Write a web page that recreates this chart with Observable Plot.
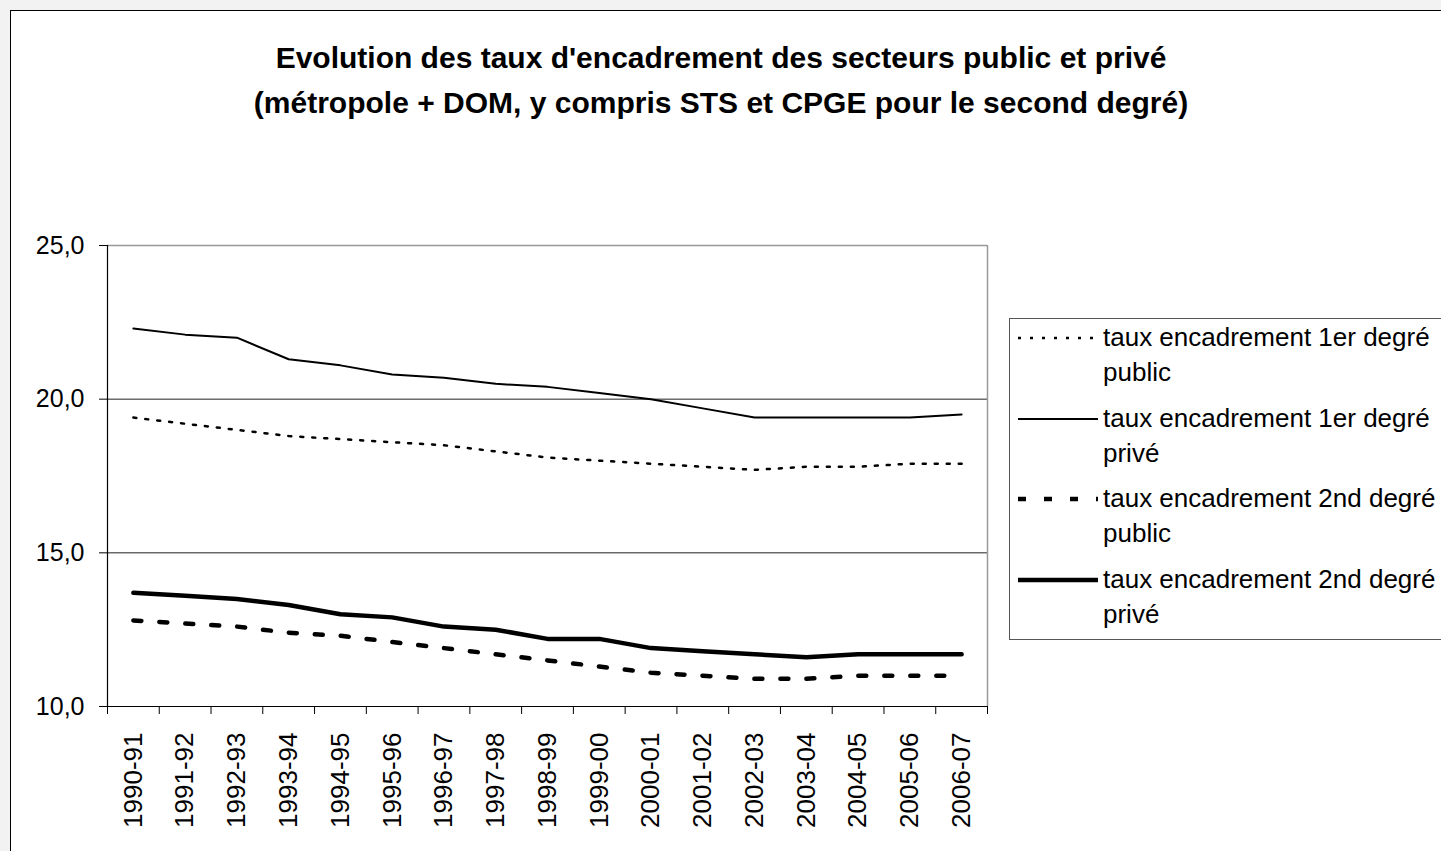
<!DOCTYPE html>
<html>
<head>
<meta charset="utf-8">
<script src="https://cdn.jsdelivr.net/npm/d3@7"></script>
<script src="https://cdn.jsdelivr.net/npm/@observablehq/plot@0.6"></script>
<style>
  html, body { margin: 0; padding: 0; background: #f2f2f2; width: 1441px; height: 851px; overflow: hidden; }
  #frame { position: absolute; left: 10px; top: 10px; width: 1431px; height: 841px; background: #fff;
           border-left: 1px solid #000; border-top: 1px solid #000; overflow: hidden;
           font-family: 'Liberation Sans', Arial, sans-serif; color: #000; }
  #title { position: absolute; left: -11px; top: 24px; width: 1442px; text-align: center;
           font-weight: bold; font-size: 30px; line-height: 45px; }
  #chart { position: absolute; left: 0; top: 189px; }
  #legend { position: absolute; left: 998px; top: 307px; width: 470px; height: 320px;
            border: 1px solid #555; background: #fff; }
  .item { position: absolute; left: 0; height: 80px; width: 470px; }
  .item svg { position: absolute; left: 8px; top: 13px; }
  .item .lab { position: absolute; left: 93px; top: 0; width: 360px; font-size: 26px; line-height: 35px; }
</style>
</head>
<body>
<div id="frame">
  <div id="title"></div>
  <div id="chart"></div>
  <div id="legend"></div>
</div>
<script>
// ---- data ----
const titleLines = [
  "Evolution des taux d'encadrement des secteurs public et privé",
  "(métropole + DOM, y compris STS et CPGE pour le second degré)"
];
const years = ["1990-91","1991-92","1992-93","1993-94","1994-95","1995-96","1996-97","1997-98","1998-99",
               "1999-00","2000-01","2001-02","2002-03","2003-04","2004-05","2005-06","2006-07"];
const seriesNames = [
  "taux encadrement 1er degré public",
  "taux encadrement 1er degré privé",
  "taux encadrement 2nd degré public",
  "taux encadrement 2nd degré privé"
];
const premierPublic = [19.4, 19.2, 19.0, 18.8, 18.7, 18.6, 18.5, 18.3, 18.1, 18.0, 17.9, 17.8, 17.7, 17.8, 17.8, 17.9, 17.9];
const premierPrive  = [22.3, 22.1, 22.0, 21.3, 21.1, 20.8, 20.7, 20.5, 20.4, 20.2, 20.0, 19.7, 19.4, 19.4, 19.4, 19.4, 19.5];
const secondPublic  = [12.8, 12.7, 12.6, 12.4, 12.3, 12.1, 11.9, 11.7, 11.5, 11.3, 11.1, 11.0, 10.9, 10.9, 11.0, 11.0, 11.0];
const secondPrive   = [13.7, 13.6, 13.5, 13.3, 13.0, 12.9, 12.6, 12.5, 12.2, 12.2, 11.9, 11.8, 11.7, 11.6, 11.7, 11.7, 11.7];
const yTicks = [10, 15, 20, 25];

// ---- styles (kept apart from data) ----
const seriesStyles = [
  {strokeWidth: 2.5, dash: "3,9"},
  {strokeWidth: 2, dash: null},
  {strokeWidth: 4.5, dash: "8,18"},
  {strokeWidth: 4.5, dash: null}
];

const seriesValues = [premierPublic, premierPrive, secondPublic, secondPrive];
const rows = [];
seriesNames.forEach((name, s) => {
  seriesValues[s].forEach((v, i) => rows.push({series: name, year: years[i], xi: i + 0.5, value: v}));
});
const boundaries = d3.range(0, years.length + 1);

document.getElementById("title").innerHTML = titleLines.map(t => `<div>${t}</div>`).join("");

const fmt = d => d.toFixed(1).replace(".", ",");

const lineMarks = seriesNames.map((name, s) =>
  Plot.line(rows.filter(r => r.series === name), {
    x: "xi", y: "value", stroke: "#000",
    strokeWidth: seriesStyles[s].strokeWidth,
    strokeDasharray: seriesStyles[s].dash || undefined,
    strokeLinejoin: "round"
  })
);

const chart = Plot.plot({
  width: 996,
  height: 651,
  marginLeft: 96,
  marginRight: 20,
  marginTop: 45,
  marginBottom: 145,
  style: {fontFamily: "'Liberation Sans', Arial, sans-serif", fontSize: "25px", color: "#000", background: "transparent", overflow: "visible"},
  x: {domain: [0, years.length], ticks: boundaries, tickSize: 8, tickFormat: () => "", label: null},
  y: {domain: [10, 25], ticks: yTicks, tickSize: 8, tickPadding: 15, tickFormat: fmt, label: null},
  marks: [
    Plot.ruleY([15, 20], {stroke: "#222", strokeWidth: 1}),
    Plot.ruleY([25], {stroke: "#999", strokeWidth: 1.5}),
    Plot.ruleX([years.length], {stroke: "#999", strokeWidth: 1.5}),
    Plot.ruleX([0], {stroke: "#000", strokeWidth: 1.2}),
    Plot.ruleY([10], {stroke: "#000", strokeWidth: 1.2}),
    ...lineMarks,
    Plot.text(years, {
      x: (d, i) => i + 0.5, frameAnchor: "bottom", text: d => d,
      rotate: -90, textAnchor: "end", lineAnchor: "middle", dy: 26, fontSize: 26, fill: "#000"
    })
  ]
});
document.getElementById("chart").appendChild(chart);

// ---- legend ----
const legend = document.getElementById("legend");
seriesNames.forEach((name, s) => {
  const st = seriesStyles[s];
  const item = document.createElement("div");
  item.className = "item";
  item.style.top = (1 + s * 80.5) + "px";
  item.innerHTML =
    `<svg width="82" height="10"><line x1="0" x2="80" y1="5" y2="5" stroke="#000" stroke-width="${st.strokeWidth}" ${st.dash ? `stroke-dasharray="${st.dash}"` : ""}/></svg>` +
    `<div class="lab">${name}</div>`;
  legend.appendChild(item);
});
</script>
</body>
</html>
